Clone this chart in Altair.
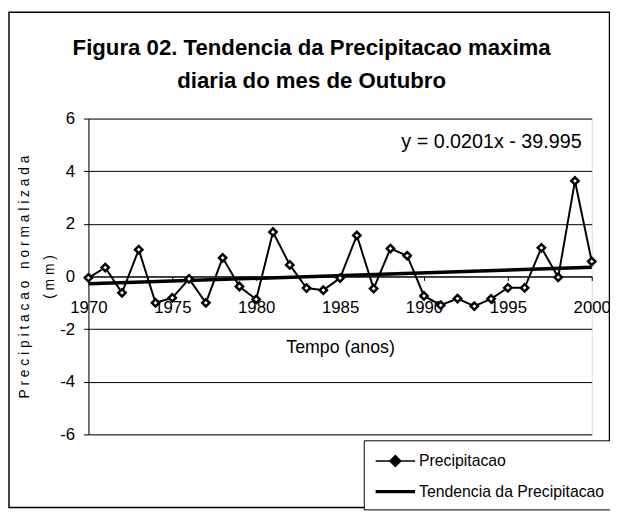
import altair as alt
import pandas as pd

# ---------------- data ----------------
years = list(range(1970, 2001))
precip = [-0.05, 0.34, -0.62, 1.02, -1.00, -0.81, -0.09, -1.00, 0.71, -0.38,
          -0.87, 1.69, 0.44, -0.44, -0.52, -0.06, 1.56, -0.46, 1.06, 0.79,
          -0.74, -1.09, -0.84, -1.13, -0.85, -0.43, -0.43, 1.09, -0.03, 3.63,
          0.57]
series_names = ["Precipitacao", "Tendencia da Precipitacao"]
title_lines = ["Figura 02.  Tendencia da Precipitacao maxima",
               "diaria do mes de Outubro"]
y_title = ["P r e c i p i t a c a o \u00a0 n o r m a l i z a d a",
           "( m m )"]
x_title = "Tempo (anos)"
equation = ["y = 0.0201x - 39.995"]
x_ticks = [1970, 1975, 1980, 1985, 1990, 1995, 2000]
y_ticks = [-6, -4, -2, 0, 2, 4, 6]

FONT = "Liberation Sans, Arial, sans-serif"
W, H = 510, 320

df = pd.DataFrame({"year": years, "value": precip, "series": series_names[0]})
legend_df = pd.DataFrame({"series": series_names})
eq_df = pd.DataFrame({"label": equation})
frame_df = pd.DataFrame({"k": [0]})

x_scale = alt.Scale(domain=[1970, 2000], nice=False, zero=False)
y_scale = alt.Scale(domain=[-6, 6], nice=False, zero=False)

x_axis = alt.Axis(values=x_ticks, format="d", title=x_title, offset=-H / 2,
                  grid=False, tickSize=4, tickColor="black", domainColor="black",
                  labelPadding=20, labelFontSize=17, labelFont=FONT,
                  labelColor="black", titleFont=FONT, titleFontSize=18,
                  titleFontWeight="normal", titleColor="black", titlePadding=23,
                  labelFlush=False)
y_axis = alt.Axis(values=y_ticks, title=y_title, grid=True, gridColor="black",
                  gridOpacity=1, gridWidth=1, tickSize=5, tickColor="black",
                  domainColor="black", labelPadding=9, labelFontSize=17,
                  labelExpr="datum.value + ''",
                  labelFont=FONT, labelColor="black", titleFont=FONT,
                  titleFontSize=14, titleFontWeight="normal", titleColor="black",
                  titleAngle=270, titleX=-64.5, titleY=H / 2, titleAlign="center",
                  titleBaseline="middle", titleLineHeight=25)

base = alt.Chart(df)

line = base.mark_line(color="black", strokeWidth=2).encode(
    x=alt.X("year:Q", scale=x_scale, axis=x_axis),
    y=alt.Y("value:Q", scale=y_scale, axis=y_axis),
)

trend = base.transform_regression(
    "year", "value", method="linear", extent=[1970, 2000]
).mark_line(color="black", strokeWidth=3.5).encode(
    x=alt.X("year:Q", scale=x_scale),
    y=alt.Y("value:Q", scale=y_scale),
)

points = base.mark_point(shape="diamond", filled=True, fill="white",
                         stroke="black", strokeWidth=2.5, size=55,
                         opacity=1).encode(
    x=alt.X("year:Q", scale=x_scale),
    y=alt.Y("value:Q", scale=y_scale),
)

eq_text = alt.Chart(eq_df).mark_text(
    align="right", baseline="alphabetic", fontSize=20, font=FONT, color="black"
).encode(
    x=alt.datum(1999.4, scale=x_scale),
    y=alt.datum(4.9, scale=y_scale),
    text="label:N",
)

path_precip = "M-1,0H3M1,-0.55L1.55,0L1,0.55L0.45,0Z"
path_trend = "M-1,0H3"
leg = alt.Legend(orient="none", legendX=279, legendY=326, title=None,
                 strokeColor="black", fillColor="white", padding=10,
                 labelFont=FONT, labelFontSize=16, labelColor="black",
                 labelLimit=400, symbolSize=400, rowPadding=10, labelOffset=22)

legend_layer = alt.Chart(legend_df).transform_filter("false").mark_point(
    filled=True, fill="black", stroke="black", opacity=1
).encode(
    shape=alt.Shape("series:N",
                    scale=alt.Scale(domain=series_names,
                                    range=[path_precip, path_trend]),
                    legend=leg),
    strokeWidth=alt.StrokeWidth("series:N",
                                scale=alt.Scale(domain=series_names,
                                                range=[1.5, 3.5]),
                                legend=leg),
)

frame = alt.Chart(frame_df).mark_rect(
    filled=False, stroke="black", strokeWidth=1.5
).encode(
    x=alt.value(-80.5), x2=alt.value(W + 18),
    y=alt.value(-107.7), y2=alt.value(H + 74),
)

chart = alt.layer(frame, line, trend, points, eq_text, legend_layer).properties(
    width=W, height=H,
    title=alt.TitleParams(text=title_lines, font=FONT, fontSize=22.5,
                          fontWeight="bold", anchor="middle", frame="bounds",
                          dx=0, offset=-100, lineHeight=33.5, color="black",
                          baseline="alphabetic"),
    autosize=alt.AutoSizeParams(type="none"),
    padding={"left": 81.5, "top": 108.7, "right": 18.5, "bottom": 76},
).configure_view(stroke="black", strokeWidth=1).configure(background="white")

chart.save("out.html", embed_options={"renderer": "svg", "actions": False})
